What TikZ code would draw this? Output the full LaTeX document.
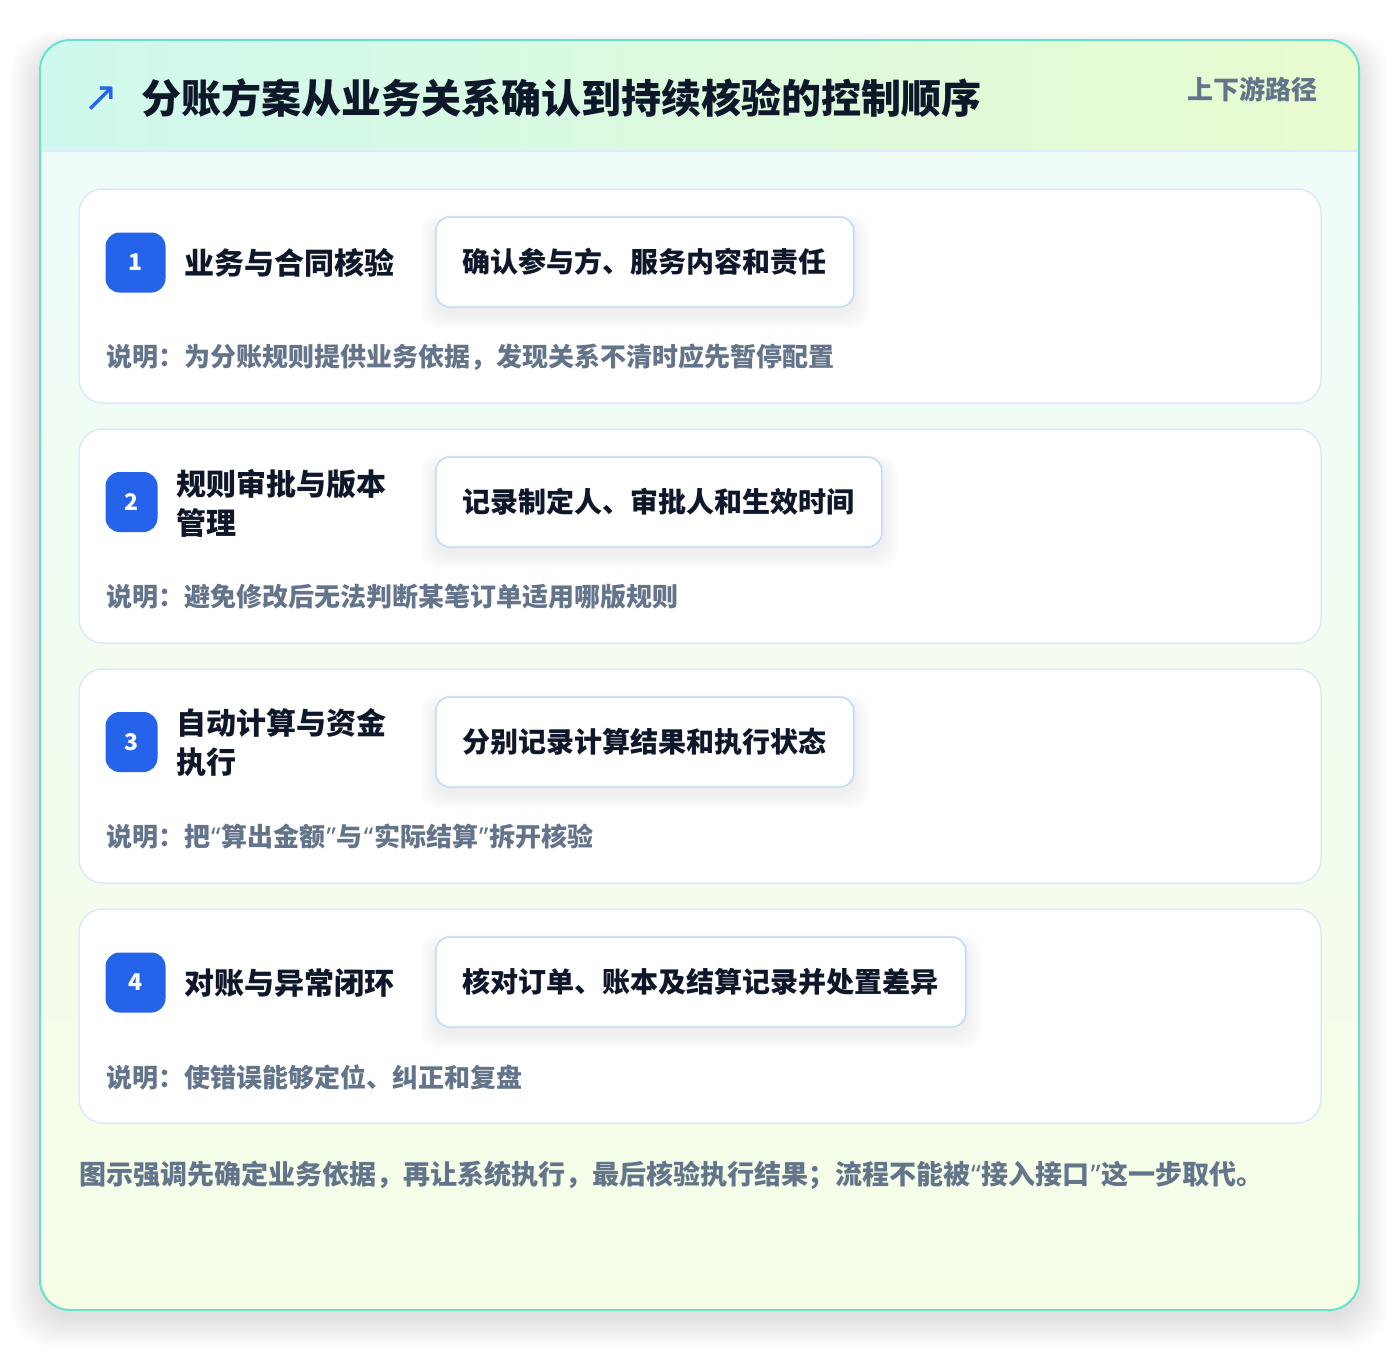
\documentclass[tikz,border=0pt]{standalone}
\usepackage{fontspec}
\setmainfont{Noto Sans CJK SC}
\newfontfamily\heavyfont{Noto Sans CJK SC Black}
\newfontfamily\latinq{Noto Sans}
\newfontfamily\symfont{DejaVu Sans}

\definecolor{frameline}{HTML}{66E3CF}
\definecolor{headl}{HTML}{CFF9EE}
\definecolor{headr}{HTML}{E9FBCF}
\definecolor{bodyt}{HTML}{EFFCF8}
\definecolor{bodyb}{HTML}{F6FEE6}
\definecolor{cardline}{HTML}{DBEAFE}
\definecolor{actline}{HTML}{BFDBFE}
\definecolor{badgeblue}{HTML}{2563EB}
\definecolor{ink}{HTML}{0F172A}
\definecolor{slate}{HTML}{64748B}

\pgfdeclarelayer{back}
\pgfdeclarelayer{shade}
\pgfsetlayers{back,shade,main}

\newcommand{\dqo}{{\latinq\bfseries\kern1pt“\kern1pt}}
\newcommand{\dqc}{{\latinq\bfseries\kern1pt”\kern1pt}}
\newcommand{\actshade}[1]{%
  \begin{pgfonlayer}{shade}
    \foreach \k in {1,...,16}
      \fill[black, opacity=0.0035, rounded corners=18pt]
        ([shift={(-\k,{6-0.5*\k})}]#1.north west) rectangle ([shift={(\k,{6+\k})}]#1.south east);
  \end{pgfonlayer}}

\tikzset{
  card/.style={draw=cardline, line width=1.5pt, fill=white, rounded corners=24pt,
    minimum width=1242pt, minimum height=214pt, inner sep=0pt},
  badge/.style={fill=badgeblue, rounded corners=14pt, text=white, inner sep=0pt,
    minimum height=60pt, font=\fontsize{23}{26}\selectfont\bfseries},
  ttl/.style={anchor=west, inner sep=0pt, text=ink, align=left,
    font=\fontsize{30}{39}\selectfont\bfseries},
  act/.style={anchor=west, draw=actline, line width=1.5pt, fill=white,
    rounded corners=14pt, minimum height=90pt, inner xsep=27pt, text=ink,
    font=\fontsize{28}{32}\selectfont\bfseries},
  note/.style={anchor=west, inner sep=0pt, text=slate,
    font=\fontsize{26}{30}\selectfont\bfseries}
}

\begin{document}
\begin{tikzpicture}[x=1pt, y=-1pt]
    \useasboundingbox (0,0) rectangle (1400,1352);

    \begin{pgfonlayer}{back}
    \fill[white] (0,0) rectangle (1400,1352);
    % 外枠の影
    \foreach \k in {1,...,30}
      \fill[black, opacity=0.0035, rounded corners=40pt]
        ({40-\k},{50-0.6*\k}) rectangle ({1359+\k},{1318+\k});
    % 外枠
    \begin{scope}
      \clip[rounded corners=30pt] (40,40) rectangle (1359,1310);
      \fill[left color=headl, right color=headr] (40,40) rectangle (1359,151);
      \fill[top color=bodyt, bottom color=bodyb] (40,151) rectangle (1359,1310);
    \end{scope}
    \draw[cardline, line width=1.5pt] (40,151) -- (1359,151);
    \draw[frameline, line width=2pt, rounded corners=30pt] (40,40) rectangle (1359,1310);
    % カード
    \node[card] (card1) at (700,296) {};
    \node[card] (card2) at (700,536) {};
    \node[card] (card3) at (700,776) {};
    \node[card] (card4) at (700,1016) {};
    \end{pgfonlayer}

    % 見出し
    \node[text=badgeblue, inner sep=0pt, font=\symfont\fontsize{42}{42}\selectfont] (icon) at (101,99) {↗};
    \node[anchor=west, inner sep=0pt, text=ink, font=\heavyfont\fontsize{40}{48}\selectfont] (title) at (141,98) {分账方案从业务关系确认到持续核验的控制顺序};
    \node[anchor=east, inner sep=0pt, text=slate, font=\fontsize{26}{30}\selectfont\bfseries] (tag) at (1318,89) {上下游路径};

    % ステップ 1
    \node[badge, minimum width=60pt] (num1) at (135.5,262.5) {1};
    \node[ttl] (ttl1) at (184,263) {业务与合同核验};
    \node[act] (act1) at (435,262) {确认参与方、服务内容和责任};
    \node[note] (note1) at (106,357) {说明：为分账规则提供业务依据，发现关系不清时应先暂停配置};

    % ステップ 2
    \node[badge, minimum width=52pt] (num2) at (131.5,502) {2};
    \node[ttl] (ttl2) at (176,503) {规则审批与版本\\管理};
    \node[act] (act2) at (435,502) {记录制定人、审批人和生效时间};
    \node[note] (note2) at (106,597) {说明：避免修改后无法判断某笔订单适用哪版规则};

    % ステップ 3
    \node[badge, minimum width=52pt] (num3) at (131.5,742) {3};
    \node[ttl] (ttl3) at (176,743) {自动计算与资金\\执行};
    \node[act] (act3) at (435,742) {分别记录计算结果和执行状态};
    \node[note] (note3) at (106,837) {说明：把\dqo 算出金额\dqc 与\dqo 实际结算\dqc 拆开核验};

    % ステップ 4
    \node[badge, minimum width=60pt] (num4) at (135.5,982.5) {4};
    \node[ttl] (ttl4) at (184,983) {对账与异常闭环};
    \node[act] (act4) at (435,982) {核对订单、账本及结算记录并处置差异};
    \node[note] (note4) at (106,1077) {说明：使错误能够定位、纠正和复盘};

    % 影
    \actshade{act1}
    \actshade{act2}
    \actshade{act3}
    \actshade{act4}

    % 脚注
    \node[anchor=west, inner sep=0pt, text=slate, font=\fontsize{27}{30}\selectfont\bfseries] (foot) at (79,1175) {图示强调先确定业务依据，再让系统执行，最后核验执行结果；流程不能被\dqo 接入接口\dqc 这一步取代。};
\end{tikzpicture}
\end{document}
